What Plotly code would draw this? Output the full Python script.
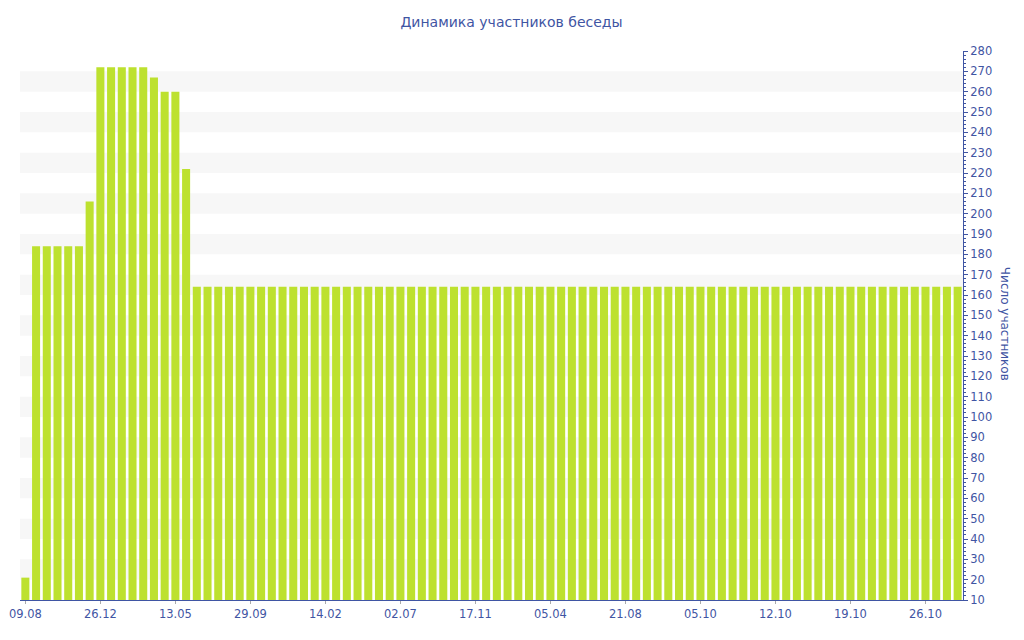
import plotly.graph_objects as go

# Tick labels shown on the category axis (every 7th bar)
tick_labels = ["09.08", "26.12", "13.05", "29.09", "14.02", "02.07", "17.11",
               "05.04", "21.08", "05.10", "12.10", "19.10", "26.10"]
tick_step = 7

# Participant counts per period (88 bars)
values_head = [21, 184, 184, 184, 184, 184, 206, 272, 272, 272, 272, 272,
               267, 260, 260, 222]
values_tail = [164] * 72
members = values_head + values_tail

x_idx = list(range(len(members)))
tickvals = [i * tick_step for i in range(len(tick_labels))]

y_min, y_max = 10, 280
band_starts = list(range(20, 270, 20))

TXT = "#3f55a3"
BAR = "#bde12f"
FONT = "DejaVu Sans"

fig = go.Figure()
fig.add_trace(go.Bar(
    x=x_idx, y=members,
    marker=dict(color=BAR, line=dict(width=0)),
    hoverinfo="y",
))

shapes = []
for b in band_starts:
    shapes.append(dict(type="rect", xref="paper", yref="y", x0=0, x1=1,
                       y0=b, y1=b + 10, fillcolor="#f7f7f7",
                       line=dict(width=0), layer="below"))

fig.update_layout(
    width=1024, height=640,
    margin=dict(l=12, r=69, t=43, b=48, autoexpand=False),
    paper_bgcolor="white", plot_bgcolor="white",
    bargap=0.25,
    showlegend=False,
    shapes=shapes,
    title=dict(text="Динамика участников беседы", xref="container", x=0.4917,
               xanchor="center", yref="container",
               y=0.978, yanchor="middle",
               font=dict(family=FONT, size=14, color=TXT)),
    font=dict(family=FONT, size=11, color=TXT),
    xaxis=dict(
        range=[-0.5, len(members) - 0.5],
        tickvals=tickvals, ticktext=tick_labels,
        automargin=False,
        showgrid=False, zeroline=False,
        showline=True, linecolor=TXT, linewidth=1,
        ticks="outside", ticklen=3, tickcolor="#aaaaaa",
        tickfont=dict(family=FONT, size=11.5, color=TXT),
    ),
    yaxis=dict(
        range=[y_min, y_max], side="right",
        dtick=10, tick0=0,
        automargin=False,
        showgrid=False, zeroline=False,
        showline=True, linecolor=TXT, linewidth=1,
        ticks="outside", ticklen=4, tickcolor=TXT,
        minor=dict(dtick=2, ticks="outside", ticklen=2, tickcolor=TXT),
        tickfont=dict(family=FONT, size=11.5, color=TXT),
    ),
    annotations=[dict(
        text="Число участников", textangle=90,
        xref="paper", yref="paper", x=1.0, xshift=42, y=0.503,
        xanchor="center", yanchor="middle", showarrow=False,
        font=dict(family=FONT, size=12, color=TXT),
    )],
)

fig.write_html("out.html")
